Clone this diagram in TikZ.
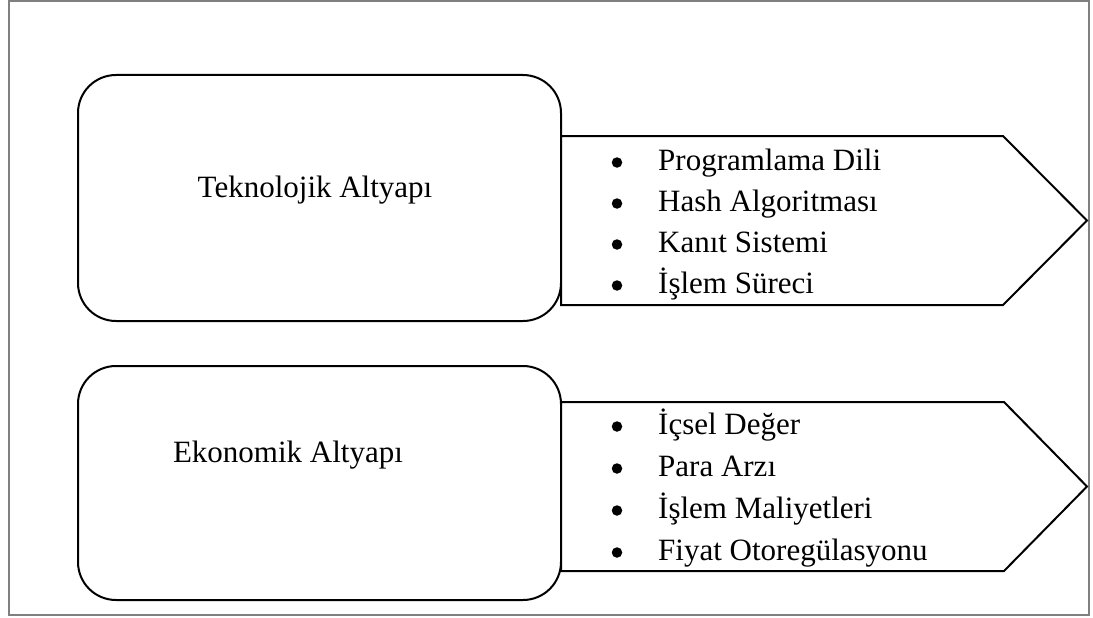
\documentclass[tikz,border=0pt]{standalone}
\usepackage{fontspec}
\setmainfont{Liberation Serif}
\begin{document}
\begin{tikzpicture}[x=1pt,y=-1pt,
  frameline/.style={draw=black!50,line width=2pt},
  roundbox/.style={draw=black,line width=2pt,rounded corners=38pt,fill=white},
  arrowbox/.style={draw=black,line width=2pt,fill=white,line join=miter},
  title/.style={font=\fontsize{31}{37}\selectfont,anchor=base,inner sep=0pt},
  item/.style={font=\fontsize{31}{37}\selectfont,anchor=base west,inner sep=0pt},
  dot/.style={circle,fill=black,inner sep=0pt,minimum size=10.5pt}]
\useasboundingbox (0,0) rectangle (1093,618);
% outer frame
\draw[frameline] (9,1) rectangle (1089,615);

% --- technological infrastructure ---
\draw[roundbox] (78,75) rectangle (561,321);
\coordinate (t1) at (561,136);
\coordinate (t2) at (1003,136);
\coordinate (t3) at (1087,220.5);
\coordinate (t4) at (1003,305);
\coordinate (t5) at (561,305);
\draw[arrowbox] (t1) -- (t2) -- (t3) -- (t4) -- (t5) -- cycle;
\node[title] (tek) at (315,197) {Teknolojik Altyapı};
\foreach \n/\y/\txt in {a/170/Programlama Dili,b/211/Hash Algoritması,c/252/Kanıt Sistemi,d/293/İşlem Süreci}{
  \node[dot] (tb\n) at (617,\y-7.5) {};
  \node[item] (ti\n) at (658,\y) {\txt};
}

% --- economic infrastructure ---
\draw[roundbox] (78,366) rectangle (561,600);
\coordinate (e1) at (561,402);
\coordinate (e2) at (1004,402);
\coordinate (e3) at (1087,486.5);
\coordinate (e4) at (1004,571);
\coordinate (e5) at (561,571);
\draw[arrowbox] (e1) -- (e2) -- (e3) -- (e4) -- (e5) -- cycle;
\node[title] (eko) at (288,462) {Ekonomik Altyapı};
\foreach \n/\y/\txt in {a/434/İçsel Değer,b/476/Para Arzı,c/518/İşlem Maliyetleri,d/560/Fiyat Otoregülasyonu}{
  \node[dot] (eb\n) at (617,\y-7.5) {};
  \node[item] (ei\n) at (658,\y) {\txt};
}
\end{tikzpicture}
\end{document}
